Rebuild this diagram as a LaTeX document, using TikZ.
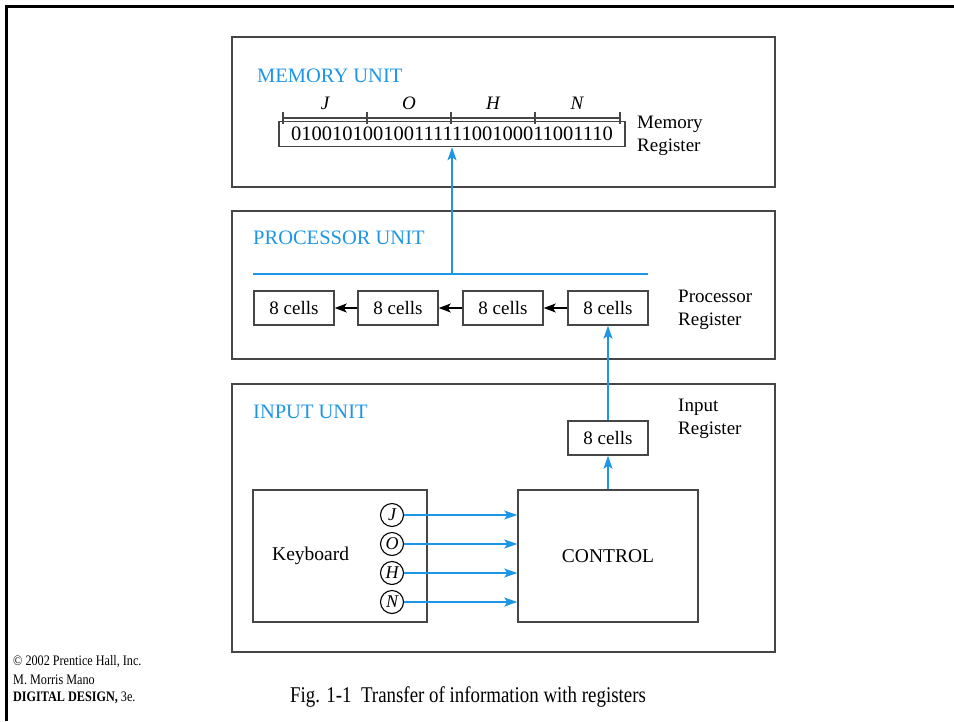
\documentclass[tikz,border=0pt]{standalone}
\usepackage{fontspec}
\setmainfont{Liberation Serif}
\newfontfamily\condensedfont[FakeStretch=0.84]{Liberation Serif}
\usetikzlibrary{arrows.meta}
\definecolor{unitblue}{RGB}{30,150,230}
\definecolor{boxgray}{RGB}{70,70,70}
\begin{document}
\begin{tikzpicture}[x=1pt,y=-1pt,
  unitbox/.style={draw=boxgray,line width=1.7pt,inner sep=0pt},
  cellbox/.style={draw=boxgray,line width=1.5pt,minimum width=80pt,minimum height=34pt,inner sep=0pt,font=\fontsize{19}{22}\selectfont},
  plainbox/.style={draw=boxgray,line width=1.5pt,inner sep=0pt,font=\fontsize{19}{22}\selectfont},
  unitlabel/.style={anchor=west,inner sep=0pt,text=unitblue,font=\fontsize{20.5}{24}\selectfont},
  sidelabel/.style={anchor=west,inner sep=0pt,align=left,font=\fontsize{19}{23}\selectfont},
  letterlabel/.style={inner sep=0pt,font=\fontsize{19}{22}\selectfont\itshape},
  keycircle/.style={draw=black,circle,line width=1.1pt,minimum size=23pt,inner sep=0pt,font=\fontsize{18}{20}\selectfont\itshape},
  bluearrow/.style={draw=unitblue,line width=1.6pt,-{Stealth[length=13pt,width=9pt,inset=3pt]}},
  bluebus/.style={draw=unitblue,line width=1.6pt},
  blackarrow/.style={draw=black,line width=1.4pt,-{Stealth[length=12pt,width=9pt,inset=3pt]}},
  footer/.style={anchor=west,inner sep=0pt,font=\fontsize{14.5}{17}\condensedfont}
]
\useasboundingbox (0,0) rectangle (954,721);
% outer frame
\draw[line width=3pt] (6.5,721) -- (6.5,6.5) -- (954,6.5);

% ---------- MEMORY UNIT ----------
\node[unitbox,minimum width=543pt,minimum height=150pt] (mem) at (503.5,112) {};
\node[unitlabel] (memlab) at (257,76) {MEMORY UNIT};
\node[plainbox,minimum width=346pt,minimum height=25pt,font=\fontsize{20.5}{22}\selectfont] (memreg) at (452,134) {01001010010011111100100011001110};
\draw[boxgray,line width=1.2pt] (283,118) -- (620,118);
\foreach \x in {283,367,451,535,620} \draw[boxgray,line width=1.2pt] (\x,112) -- (\x,124);
\node[letterlabel] (lJ) at (325,103) {J};
\node[letterlabel] (lO) at (409,103) {O};
\node[letterlabel] (lH) at (493,103) {H};
\node[letterlabel] (lN) at (577,103) {N};
\node[sidelabel] (memtxt) at (637,136) {Memory\\Register};

% ---------- PROCESSOR UNIT ----------
\node[unitbox,minimum width=543pt,minimum height=148pt] (proc) at (503.5,285) {};
\node[unitlabel] (proclab) at (253,238) {PROCESSOR UNIT};
\coordinate (busL) at (253,274);
\coordinate (busR) at (648,274);
\draw[bluebus] (busL) -- (busR);
\node[cellbox] (c1) at (294,308) {8 cells};
\node[cellbox] (c2) at (398,308) {8 cells};
\node[cellbox] (c3) at (503,308) {8 cells};
\node[cellbox] (c4) at (608,308) {8 cells};
\draw[blackarrow] (c4.west) -- (c3.east);
\draw[blackarrow] (c3.west) -- (c2.east);
\draw[blackarrow] (c2.west) -- (c1.east);
\node[sidelabel] (proctxt) at (678,310) {Processor\\Register};
\draw[bluearrow] (memreg.south |- busL) -- (memreg.south);

% ---------- INPUT UNIT ----------
\node[unitbox,minimum width=543pt,minimum height=268pt] (inp) at (503.5,518) {};
\node[unitlabel] (inplab) at (253,412) {INPUT UNIT};
\node[cellbox] (inreg) at (608,438) {8 cells};
\node[sidelabel] (inptxt) at (678,419) {Input\\Register};
\node[plainbox,minimum width=174pt,minimum height=132pt] (kbd) at (340,556) {};
\node[anchor=west,inner sep=0pt,font=\fontsize{19.5}{22}\selectfont] (kbdtxt) at (272,556) {Keyboard};
\node[plainbox,minimum width=180pt,minimum height=132pt,font=\fontsize{19.5}{22}\selectfont] (control) at (608,556) {CONTROL};
\node[keycircle] (kJ) at (392,515) {J};
\node[keycircle] (kO) at (392,544) {O};
\node[keycircle] (kH) at (392,573) {H};
\node[keycircle] (kN) at (392,602) {N};
\foreach \k in {kJ,kO,kH,kN} \draw[bluearrow] (\k.east) -- (\k.east -| control.west);
\draw[bluearrow] (control.north) -- (inreg.south);
\draw[bluearrow] (inreg.north) -- (c4.south);

% ---------- footer ----------
\node[footer] (f1) at (13,662) {© 2002 Prentice Hall, Inc.};
\node[footer] (f2) at (13,680) {M. Morris Mano};
\node[footer] (f3) at (13,698) {\textbf{DIGITAL DESIGN,} 3e.};
\node[anchor=west,inner sep=0pt,font=\fontsize{22.5}{26}\condensedfont] (cap) at (290,697) {Fig. 1-1\ \ Transfer of information with registers};
\end{tikzpicture}
\end{document}
